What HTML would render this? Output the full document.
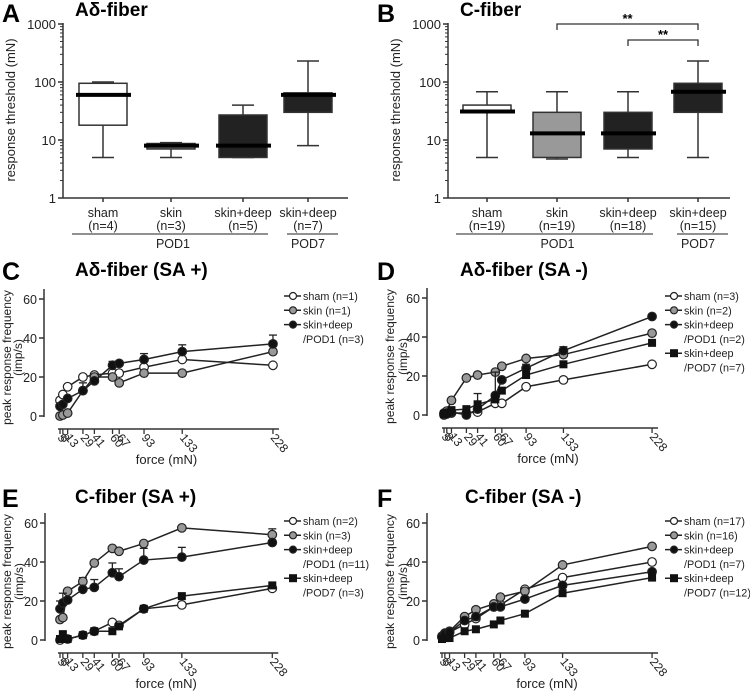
<!DOCTYPE html>
<html><head><meta charset="utf-8"><style>
html,body{margin:0;padding:0;background:#fff}
svg{display:block;font-family:"Liberation Sans",Arial,sans-serif}
</style></head><body>
<svg id="fig" width="750" height="694" viewBox="0 0 750 694"></svg>
<script>
// ---------- data ----------
const boxCats = ["sham","skin","skin+deep","skin+deep"];
const boxNsA = ["(n=4)","(n=3)","(n=5)","(n=7)"];
const boxNsB = ["(n=19)","(n=19)","(n=18)","(n=15)"];
const boxFill = ["#fff","#999","#222","#222"];
const boxFillA = ["#fff","#888","#222","#222"];
// [whiskerLow, boxLow, median, boxHigh, whiskerHigh]
const boxA = [[5,18,60,95,100],[5,7,8,8.7,9],[5,5,8,27,40],[8,30,60,65,230]];
const boxB = [[5,30,31,40,68],[4.7,5,13,30,68],[5,7,13,30,68],[5,30,68,95,230]];
const logTicks = [1,10,100,1000];

const forces = [5,8,13,29,41,60,67,93,133,228];
const yTicks = [0,20,40,60];

const cSham = [8,11,15,20,21,22,22,25,29,26];
const cSkin = [0,0.5,1.5,13,20,20,17,22,22,33];
const cPod1 = [5,6,9,13,18,26,27,29,33,37];
const cPod1Err = [1,1,1,4,1,2,1,3,3.5,4.5];

const dSham = [0,0.5,1,1,1.5,6,6,14.5,18,26];
const dSkin = [1,2,7.5,19,20.5,22,25,29,31,42];
const dPod1 = [0.5,1,1.5,0,3,10,18,24,33,50.5];
const dPod7 = [0.5,1,2.5,3,5.5,8,12.5,20.5,26,37];
const dPod1Err = [0,0,0,0,8,12,0,2,2,0];

const eSham = [0,1,0.5,2.5,4.5,9,7.5,16,18,26.5];
const eSkin = [10.5,11.5,25,30,39.5,47,45.5,49.5,57.5,54];
const ePod1 = [16,19,20.5,26,27,34.5,32.5,41,42.5,50];
const ePod7 = [0.5,3,0.5,2.5,4.5,4.5,7,16,22.5,28];
const ePod1Err = [4,5,1,1,4,5,4,6,5,1];
const eSkinErr = [0,0,0,2,0,0,0,0,0,3];

const fSham = [1.5,3,4,8,11,17,18,26,32,40];
const fSkin = [2,3.5,4.5,12,15.5,18.5,22,25,38.5,48];
const fPod1 = [1.5,3,4,10,12,17,17,21,28,35];
const fPod7 = [0.5,1,1,4.5,5.5,8,10,13.5,24,32];

// ---------- helpers ----------
const svg = document.getElementById('fig');
const NS = 'http://www.w3.org/2000/svg';
function mk(tag, attrs, parent, txt){
  const e = document.createElementNS(NS, tag);
  for (const k in attrs) e.setAttribute(k, attrs[k]);
  if (txt !== undefined) e.textContent = txt;
  (parent || svg).appendChild(e);
  return e;
}
function group(name){
  const g = mk('g', {});
  
  
  return g;
}

function boxPanel(opt){
  const g = group(opt.name);
  const ax = opt.axisX, y1 = 198, dec = 58;
  const ly = v => y1 - Math.log10(v) * dec;
  const L = mk('text',{x:opt.letterX,y:22,'font-size':25,'font-weight':'bold'},g,opt.letter);
   
  const T = mk('text',{x:opt.titleX,y:16,'font-size':19,'font-weight':'bold'},g,opt.title);
   
  mk('line',{x1:ax,y1:ly(1000)-1,x2:ax,y2:y1,stroke:'#333','stroke-width':1.5},g);
  mk('line',{x1:ax,y1:y1,x2:opt.axisEnd,y2:y1,stroke:'#333','stroke-width':1.5},g);
  logTicks.forEach(t=>{
    mk('line',{x1:ax-5,y1:ly(t),x2:ax,y2:ly(t),stroke:'#333','stroke-width':1.5},g);
    const tl = mk('text',{x:ax-7,y:ly(t)+5,'font-size':13,'text-anchor':'end',fill:'#222'},g,String(t));
     
    if (t<1000) for(let m=2;m<10;m++){
      mk('line',{x1:ax-3,y1:ly(t*m),x2:ax,y2:ly(t*m),stroke:'#333','stroke-width':1},g);
    }
  });
  const yt = mk('text',{transform:`translate(${ax-48},110) rotate(-90)`,'font-size':13,'text-anchor':'middle',fill:'#222'},g,'response threshold (mN)');
   
  opt.data.forEach((d,i)=>{
    const cx = opt.catX[i], hw = 24;
    const bg = mk('g',{},g);
     
    mk('line',{x1:cx,y1:ly(d[0]),x2:cx,y2:ly(d[4]),stroke:'#333','stroke-width':1.5},bg);
    mk('line',{x1:cx-11,y1:ly(d[0]),x2:cx+11,y2:ly(d[0]),stroke:'#333','stroke-width':1.5},bg);
    mk('line',{x1:cx-11,y1:ly(d[4]),x2:cx+11,y2:ly(d[4]),stroke:'#333','stroke-width':1.5},bg);
    mk('rect',{x:cx-hw,y:ly(d[3]),width:2*hw,height:ly(d[1])-ly(d[3]),fill:opt.fill[i],stroke:'#333','stroke-width':1.5},bg);
    mk('line',{x1:cx-hw-3,y1:ly(d[2]),x2:cx+hw+4,y2:ly(d[2]),stroke:'#000','stroke-width':4},bg);
    mk('line',{x1:cx,y1:y1,x2:cx,y2:y1+4,stroke:'#333','stroke-width':1.5},bg);
    const c1 = mk('text',{x:cx,y:217,'font-size':12.5,'text-anchor':'middle',fill:'#222'},g,boxCats[i]);
     
    const c2 = mk('text',{x:cx,y:230,'font-size':12.5,'text-anchor':'middle',fill:'#222'},g,opt.ns[i]);
     
  });
  mk('line',{x1:opt.catX[0]-31,y1:234,x2:opt.catX[2]+25,y2:234,stroke:'#222','stroke-width':1},g);
  mk('line',{x1:opt.catX[3]-21,y1:234,x2:opt.catX[3]+30,y2:234,stroke:'#222','stroke-width':1},g);
  const p1 = mk('text',{x:(opt.catX[0]+opt.catX[2])/2,y:248,'font-size':12.5,'text-anchor':'middle',fill:'#222'},g,'POD1');
   
  const p7 = mk('text',{x:opt.catX[3],y:248,'font-size':12.5,'text-anchor':'middle',fill:'#222'},g,'POD7');
   
  return g;
}

boxPanel({name:'panel-a',letter:'A',letterX:2,title:'Aδ-fiber',titleX:75,axisX:63,axisEnd:348,
  catX:[103,171,243,308],data:boxA,fill:boxFillA,ns:boxNsA});
const gB = boxPanel({name:'panel-b',letter:'B',letterX:377,title:'C-fiber',titleX:460,axisX:448,axisEnd:730,
  catX:[487,557,628,698],data:boxB,fill:boxFill,ns:boxNsB});
[[557,698,24,17],[628,698,40,33]].forEach((b,i)=>{
  const s = mk('g',{},gB);
   
  mk('path',{d:`M${b[0]} ${b[2]+6}V${b[2]}H${b[1]}V${b[2]+6}`,fill:'none',stroke:'#333','stroke-width':1.3},s);
  mk('text',{x:(b[0]+b[1])/2,y:b[3]+6,'font-size':13,'text-anchor':'middle','font-weight':'bold'},s,'**');
});

function linePanel(opt){
  const g = group(opt.name);
  const y0 = opt.y0, sy = 39/20;
  const xs = f => opt.x5 + (f-5)*opt.sx;
  const ys = v => y0 - v*sy;
  const L = mk('text',{x:opt.letterX,y:opt.titleY+4,'font-size':25,'font-weight':'bold'},g,opt.letter);
   
  const T = mk('text',{x:opt.titleX,y:opt.titleY,'font-size':19,'font-weight':'bold'},g,opt.title);
   
  const ax = opt.axisX;
  mk('line',{x1:ax,y1:ys(60)-10,x2:ax,y2:ys(0)+1,stroke:'#333','stroke-width':1.5},g);
  yTicks.forEach(t=>{
    mk('line',{x1:ax-5,y1:ys(t),x2:ax,y2:ys(t),stroke:'#333','stroke-width':1.5},g);
    const tl = mk('text',{x:ax-7,y:ys(t)+5,'font-size':opt.tickFs,'text-anchor':'end',fill:'#222'},g,String(t));
     
  });
  const xa = y0 + 13;
  mk('line',{x1:xs(5)-2,y1:xa,x2:xs(228)+6,y2:xa,stroke:'#333','stroke-width':1.5},g);
  forces.forEach(f=>{
    mk('line',{x1:xs(f),y1:xa,x2:xs(f),y2:xa+5,stroke:'#333','stroke-width':1.3},g);
    const tl = mk('text',{transform:`translate(${xs(f)-3},${xa+9}) rotate(50)`,'font-size':12,fill:'#222'},g,String(f));
     
  });
  const xt = mk('text',{x:(xs(5)+xs(228))/2,y:xa+35,'font-size':13,'text-anchor':'middle',fill:'#222'},g,'force (mN)');
   
  const yt = mk('text',{transform:`translate(0,${ys(30)}) rotate(-90)`,'font-size':opt.ytFs,'text-anchor':'middle',fill:'#222'},g);
   
  mk('tspan',{x:0,y:opt.ytB1},yt,'peak response frequency');
  mk('tspan',{x:0,y:opt.ytB2},yt,'(imp/s)');
  opt.series.forEach((s)=>{
    const sg = mk('g',{},g);
     
    if (s.err) s.vals.forEach((v,i)=>{
      if (!s.err[i]) return;
      const e = s.err[i];
      mk('line',{x1:xs(forces[i]),y1:ys(v),x2:xs(forces[i]),y2:ys(v+e),stroke:'#222','stroke-width':1.3},sg);
      mk('line',{x1:xs(forces[i])-4,y1:ys(v+e),x2:xs(forces[i])+4,y2:ys(v+e),stroke:'#222','stroke-width':1.3},sg);
    });
    mk('polyline',{points:s.vals.map((v,i)=>xs(forces[i])+','+ys(v)).join(' '),fill:'none',stroke:'#222','stroke-width':1.5},sg);
    s.vals.forEach((v,i)=>{
      let m;
      if (s.shape==='sq') m = mk('rect',{x:xs(forces[i])-4,y:ys(v)-4,width:8,height:8,fill:'#111'},sg);
      else m = mk('circle',{cx:xs(forces[i]),cy:ys(v),r:4.3,fill:s.fill,stroke:'#222','stroke-width':1.2},sg);
       
    });
  });
  const lg = mk('g',{},g);
   
  let ly = opt.legY;
  opt.series.forEach(s=>{
    const e = mk('g',{},lg);
     
    const lx = opt.legX;
    mk('line',{x1:lx-18,y1:ly-4,x2:lx-1,y2:ly-4,stroke:'#222','stroke-width':1.5},e);
    if (s.shape==='sq') mk('rect',{x:lx-13,y:ly-8,width:8,height:8,fill:'#111'},e);
    else mk('circle',{cx:lx-9,cy:ly-4,r:3.5,fill:s.fill,stroke:'#222','stroke-width':1.2},e);
    s.label.forEach((t,k)=>{
      mk('text',{x:lx+1,y:ly+k*14.3,'font-size':10.8,fill:'#222'},e,t);
    });
    ly += s.label.length*14.3;
  });
}

linePanel({name:'panel-c',letter:'C',letterX:2,title:'Aδ-fiber (SA +)',titleX:75,titleY:276,y0:416,x5:60,sx:0.955,axisX:44,legX:302,legY:300,
  tickFs:12.5,ytFs:12,ytB1:11,ytB2:22,
  series:[
    {key:'sham',vals:cSham,fill:'#fff',label:['sham (n=1)']},
    {key:'skin',vals:cSkin,fill:'#999',label:['skin (n=1)']},
    {key:'skin-deep-pod1',vals:cPod1,fill:'#111',err:cPod1Err,label:['skin+deep','/POD1 (n=3)']}
  ]});
linePanel({name:'panel-d',letter:'D',letterX:377,title:'Aδ-fiber (SA -)',titleX:460,titleY:276,y0:415,x5:444,sx:0.933,axisX:427,legX:683,legY:300,
  tickFs:12.5,ytFs:12,ytB1:394,ytB2:407,
  series:[
    {key:'sham',vals:dSham,fill:'#fff',label:['sham (n=3)']},
    {key:'skin',vals:dSkin,fill:'#999',label:['skin (n=2)']},
    {key:'skin-deep-pod1',vals:dPod1,fill:'#111',err:dPod1Err,label:['skin+deep','/POD1 (n=2)']},
    {key:'skin-deep-pod7',vals:dPod7,shape:'sq',label:['skin+deep','/POD7 (n=7)']}
  ]});
linePanel({name:'panel-e',letter:'E',letterX:2,title:'C-fiber (SA +)',titleX:75,titleY:503,y0:640,x5:60,sx:0.952,axisX:45,legX:302,legY:525,
  tickFs:12.5,ytFs:12,ytB1:11,ytB2:23,
  series:[
    {key:'sham',vals:eSham,fill:'#fff',label:['sham (n=2)']},
    {key:'skin',vals:eSkin,fill:'#999',err:eSkinErr,label:['skin (n=3)']},
    {key:'skin-deep-pod1',vals:ePod1,fill:'#111',err:ePod1Err,label:['skin+deep','/POD1 (n=11)']},
    {key:'skin-deep-pod7',vals:ePod7,shape:'sq',label:['skin+deep','/POD7 (n=3)']}
  ]});
linePanel({name:'panel-f',letter:'F',letterX:377,title:'C-fiber (SA -)',titleX:465,titleY:503,y0:640,x5:442,sx:0.942,axisX:427,legX:683,legY:525,
  tickFs:12.5,ytFs:12,ytB1:394,ytB2:407,
  series:[
    {key:'sham',vals:fSham,fill:'#fff',label:['sham (n=17)']},
    {key:'skin',vals:fSkin,fill:'#999',label:['skin (n=16)']},
    {key:'skin-deep-pod1',vals:fPod1,fill:'#111',label:['skin+deep','/POD1 (n=7)']},
    {key:'skin-deep-pod7',vals:fPod7,shape:'sq',label:['skin+deep','/POD7 (n=12)']}
  ]});
</script>
</body></html>
